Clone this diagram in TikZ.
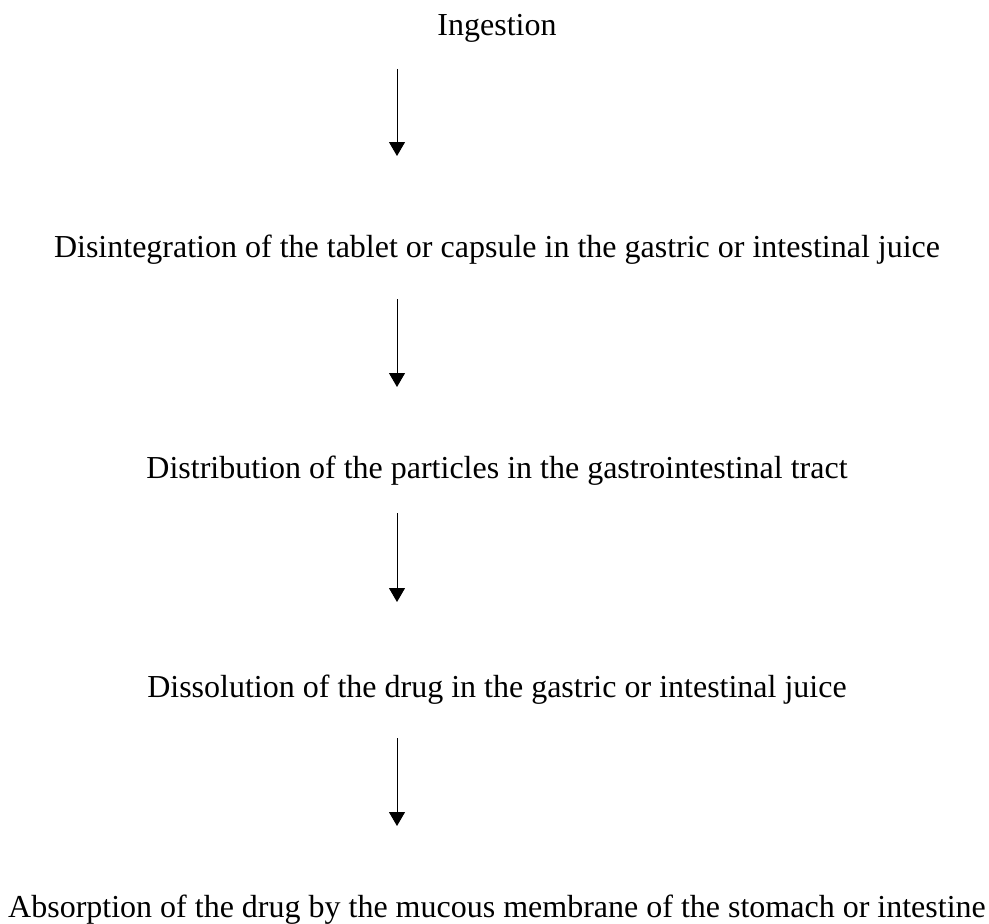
\documentclass[tikz,border=0pt]{standalone}
\usepackage{fontspec}
\setmainfont{Liberation Serif}
\usetikzlibrary{arrows.meta,calc}
\tikzset{
stage/.style={
	  inner sep=0pt, anchor=base,
	    font=\fontsize{24}{28}\selectfont},
flow/.style={-{Triangle[width=12pt,length=10.5pt]}, line width=0.75pt}
}

\begin{document}
\begin{tikzpicture}[x=0.75pt, y=-0.75pt]
	\useasboundingbox (0,0) rectangle (989,924);
	\node[stage] (ingest) at (497,36) {Ingestion};
	\node[stage] (disint) at (497,257) {Disintegration of the tablet or capsule in the gastric or intestinal juice};
	\node[stage] (distrib) at (497,478) {Distribution of the particles in the gastrointestinal tract};
	\node[stage] (dissol) at (497,697) {Dissolution of the drug in the gastric or intestinal juice};
	\node[stage] (absorb) at (497,917) {Absorption of the drug by the mucous membrane of the stomach or intestine};
	% gap below the upper text / above the lower text
	\foreach \from/\to/\gapa/\gapb in {ingest/disint/33/101, disint/distrib/42/91,
		distrib/dissol/35/95, dissol/absorb/41/91}
		\draw[flow] ($(\from.base)+(-100,\gapa)$) -- ($(\to.base)+(-100,-\gapb)$);
\end{tikzpicture}
\end{document}
